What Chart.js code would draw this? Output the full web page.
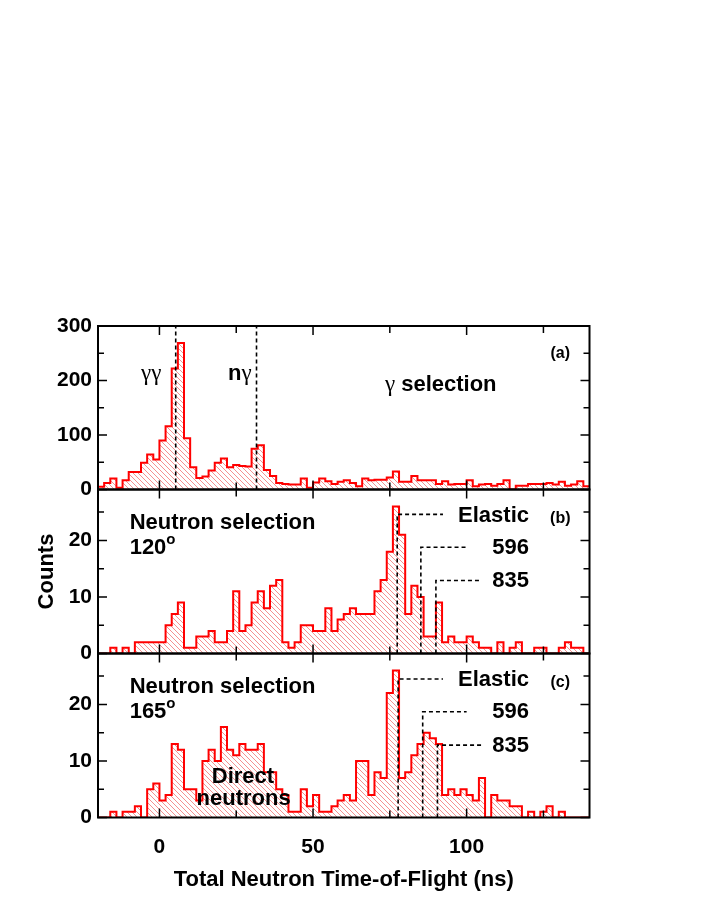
<!DOCTYPE html>
<html>
<head>
<meta charset="utf-8">
<script src="https://cdn.jsdelivr.net/npm/chart.js@4.4.1/dist/chart.umd.min.js"></script>
<style>
  body { margin: 0; background: #fff; width: 708px; height: 917px; position: relative; overflow: hidden; }
  canvas { position: absolute; left: 0; }
</style>
</head>
<body>
<canvas id="panelA" width="708" height="190" style="top:310px"></canvas>
<canvas id="panelB" width="708" height="200" style="top:470px"></canvas>
<canvas id="panelC" width="708" height="277" style="top:640px"></canvas>
<script>
// histogram bins: 2 ns wide, first bin starts at -20 ns
const tofStart = -20;
const tofBinWidth = 2;

// (a) gamma selection
const gammaCounts = [5, 12, 20, 3, 17, 32, 32, 49, 64, 55,
  90, 116, 222, 269, 94, 41, 21, 24, 35, 49,
  57, 41, 45, 43, 42, 75, 81, 36, 25, 12,
  10, 9, 9, 20, 3, 13, 20, 15, 10, 14,
  17, 12, 6, 20, 17, 18, 18, 22, 33, 14,
  14, 25, 17, 17, 17, 10, 15, 9, 10, 10,
  17, 6, 9, 10, 7, 10, 17, 0, 7, 7,
  10, 10, 10, 12, 9, 14, 7, 9, 15, 6];

// (b) neutron selection, 120 deg
const n120Counts = [0, 0, 1, 0, 1, 0, 2, 2, 2, 2,
  2, 5, 7, 9, 1, 1, 3, 3, 4, 2,
  2, 4, 11, 4, 5, 9, 11, 8, 12, 13,
  2, 1, 2, 5, 5, 4, 4, 8, 4, 6,
  7, 8, 7, 7, 7, 11, 13, 18, 26, 21,
  7, 12, 10, 3, 3, 9, 2, 3, 2, 2,
  3, 2, 1, 1, 0, 2, 0, 1, 2, 0,
  0, 1, 1, 0, 0, 1, 2, 1, 1, 0];

// (c) neutron selection, 165 deg
const n165Counts = [0, 0, 1, 0, 1, 1, 2, 0, 5, 6,
  3, 4, 13, 12, 5, 5, 3, 10, 12, 10,
  16, 12, 11, 13, 12, 12, 13, 8, 8, 5,
  4, 1, 1, 5, 2, 4, 1, 1, 2, 3,
  4, 3, 10, 10, 4, 8, 7, 22, 26, 7,
  8, 11, 13, 15, 14, 13, 4, 5, 4, 5,
  4, 3, 7, 0, 4, 3, 3, 2, 2, 0,
  1, 0, 1, 2, 0, 1, 0, 0, 0, 0];

// gamma markers in (a)
const gammaMarkerTof = [5.3, 31.6];

// peak markers in (b) and (c)
const peakNames = ['Elastic', '596', '835'];
const peakTof120 = [77.4, 85.1, 90.0];
const peakLevel120 = [24.6, 18.8, 12.9];
const peakTof165 = [77.7, 85.7, 90.5];
const peakLevel165 = [24.5, 18.7, 12.8];
const peakLineEnd = [92.3, 100.0, 104.9];

const xTickLabels = [0, 50, 100];
const xMinorTicks = [25, 75, 125];
const gammaTickLabels = [0, 100, 200, 300];
const gammaMinorTicks = [50, 150, 250];
const neutronTickLabels = [0, 10, 20];
const neutronMinorTicks = [5, 15, 25];

const SANS = '"Liberation Sans", Arial, Helvetica, sans-serif';
const SERIF = '"Liberation Serif", "DejaVu Serif", serif';
const B22 = 'bold 22px ' + SANS;
const G22 = '23px ' + SERIF;

function histPoints(counts) {
  const pts = counts.map((c, i) => ({ x: tofStart + i * tofBinWidth, y: c }));
  pts.push({ x: tofStart + counts.length * tofBinWidth, y: counts[counts.length - 1] });
  return pts;
}

function hatch(ctx) {
  const s = 5;
  const c = document.createElement('canvas');
  c.width = s; c.height = s;
  const g = c.getContext('2d');
  g.strokeStyle = 'rgba(240, 90, 90, 0.75)';
  g.lineWidth = 0.9;
  g.beginPath();
  g.moveTo(0, 0); g.lineTo(s, s);
  g.moveTo(-1, s - 1); g.lineTo(1, s + 1);
  g.moveTo(s - 1, -1); g.lineTo(s + 1, 1);
  g.stroke();
  return ctx.createPattern(c, 'repeat');
}

function dashed(points) {
  return {
    data: points, borderColor: '#000', borderWidth: 1.6, borderDash: [4, 3],
    pointRadius: 0, fill: false, order: 0
  };
}

function drawRich(ctx, parts, px, py, align) {
  let w = 0;
  parts.forEach(p => { ctx.font = p.font; w += ctx.measureText(p.text).width; });
  let x = align === 'center' ? px - w / 2 : (align === 'right' ? px - w : px);
  ctx.textAlign = 'left';
  ctx.textBaseline = 'middle';
  ctx.fillStyle = '#000';
  parts.forEach(p => {
    ctx.font = p.font;
    ctx.fillText(p.text, x, py + (p.dy || 0));
    x += ctx.measureText(p.text).width;
  });
}

// frame, inward ticks and text labels of one panel
function decor(spec) {
  return {
    id: 'decor',
    afterDatasetsDraw(chart) {
      const { ctx, chartArea: a, scales: { x, y } } = chart;
      ctx.save();
      ctx.strokeStyle = '#000';
      ctx.lineWidth = 1.5;
      ctx.beginPath();
      xTickLabels.concat(xMinorTicks).forEach(v => {
        const len = xTickLabels.includes(v) ? 9 : 7;
        const px = x.getPixelForValue(v);
        ctx.moveTo(px, a.top); ctx.lineTo(px, a.top + len);
        ctx.moveTo(px, a.bottom); ctx.lineTo(px, a.bottom - len);
      });
      spec.yLabels.concat(spec.yMinor).forEach(v => {
        const len = spec.yLabels.includes(v) ? 9 : 6;
        const py = y.getPixelForValue(v);
        ctx.moveTo(a.left, py); ctx.lineTo(a.left + len, py);
        ctx.moveTo(a.right, py); ctx.lineTo(a.right - len, py);
      });
      ctx.stroke();
      ctx.lineWidth = 2;
      ctx.strokeRect(a.left, a.top, a.right - a.left, a.bottom - a.top);
      spec.texts.forEach(t => {
        drawRich(ctx, t.parts, x.getPixelForValue(t.x), y.getPixelForValue(t.y), t.align);
      });
      ctx.restore();
    }
  };
}

function makePanel(id, spec) {
  const canvas = document.getElementById(id);
  const ctx = canvas.getContext('2d');
  const datasets = spec.markers.map(dashed);
  datasets.push({
    data: histPoints(spec.counts),
    stepped: 'before',
    borderColor: '#ff0000',
    borderWidth: 2,
    backgroundColor: hatch(ctx),
    fill: 'origin',
    pointRadius: 0,
    order: 1
  });
  return new Chart(ctx, {
    type: 'line',
    data: { datasets },
    options: {
      responsive: false,
      animation: false,
      events: [],
      layout: { padding: spec.padding },
      plugins: { legend: { display: false }, tooltip: { enabled: false } },
      scales: {
        x: {
          type: 'linear', min: -20, max: 140,
          display: spec.showX,
          grid: { display: false, drawTicks: false },
          border: { display: false },
          afterBuildTicks: s => { s.ticks = xTickLabels.map(v => ({ value: v })); },
          afterFit: s => {
            s.paddingLeft = 0; s.paddingRight = 0;
            if (spec.showX) s.height = 99.5;
          },
          ticks: { color: '#000', padding: 17, font: { family: SANS, size: 21, weight: 'bold' } },
          title: {
            display: true, text: 'Total Neutron Time-of-Flight (ns)', color: '#000',
            font: { family: SANS, size: 22, weight: 'bold' }, padding: { top: 0, bottom: 24 }
          }
        },
        y: {
          type: 'linear', min: 0, max: spec.yMax,
          grid: { display: false, drawTicks: false },
          border: { display: false },
          afterBuildTicks: s => { s.ticks = spec.yLabels.map(v => ({ value: v })); },
          afterFit: s => { s.width = 98; s.paddingTop = 0; s.paddingBottom = 0; },
          ticks: { color: '#000', padding: 6, font: { family: SANS, size: 21, weight: 'bold' } },
          title: {
            display: !!spec.yTitle, text: spec.yTitle || '', color: '#000',
            font: { family: SANS, size: 22, weight: 'bold' }, padding: { top: 34, bottom: 0 }
          }
        }
      }
    },
    plugins: [decor(spec)]
  });
}

function peakMarkers(tofs, levels) {
  return tofs.map((t, i) => [{ x: t, y: 0 }, { x: t, y: levels[i] }, { x: peakLineEnd[i], y: levels[i] }]);
}

function peakTexts(levels) {
  return peakNames.map((n, i) => ({ parts: [{ text: n, font: B22 }], x: 120.3, y: levels[i], align: 'right' }));
}

makePanel('panelA', {
  counts: gammaCounts,
  yMax: 300,
  yLabels: gammaTickLabels,
  yMinor: gammaMinorTicks,
  padding: { top: 16, bottom: 10.5, left: 0, right: 118.5 },
  showX: false,
  markers: gammaMarkerTof.map(t => [{ x: t, y: 0 }, { x: t, y: 300 }]),
  texts: [
    { parts: [{ text: 'γγ', font: G22 }], x: -2.7, y: 212, align: 'center' },
    { parts: [{ text: 'n', font: B22 }, { text: 'γ', font: G22 }], x: 26.2, y: 212, align: 'center' },
    { parts: [{ text: 'γ', font: G22 }, { text: ' selection', font: B22 }], x: 73.4, y: 192, align: 'left' },
    { parts: [{ text: '(a)', font: 'bold 16px ' + SANS }], x: 130.5, y: 250, align: 'center' }
  ]
});

makePanel('panelB', {
  counts: n120Counts,
  yMax: 29,
  yLabels: neutronTickLabels,
  yMinor: neutronMinorTicks,
  yTitle: 'Counts',
  padding: { top: 19.5, bottom: 16.5, left: 0, right: 118.5 },
  showX: false,
  markers: peakMarkers(peakTof120, peakLevel120),
  texts: [
    { parts: [{ text: 'Neutron selection', font: B22 }], x: -9.7, y: 23.1, align: 'left' },
    { parts: [{ text: '120', font: B22 }, { text: 'o', font: 'bold 15px ' + SANS, dy: -8 }], x: -9.7, y: 18.7, align: 'left' },
    { parts: [{ text: '(b)', font: 'bold 16px ' + SANS }], x: 130.5, y: 23.9, align: 'center' }
  ].concat(peakTexts([24.4, 18.7, 12.9]))
});

makePanel('panelC', {
  counts: n165Counts,
  yMax: 29,
  yLabels: neutronTickLabels,
  yMinor: neutronMinorTicks,
  padding: { top: 13.5, bottom: 0, left: 0, right: 118.5 },
  showX: true,
  markers: peakMarkers(peakTof165, peakLevel165),
  texts: [
    { parts: [{ text: 'Neutron selection', font: B22 }], x: -9.7, y: 23.0, align: 'left' },
    { parts: [{ text: '165', font: B22 }, { text: 'o', font: 'bold 15px ' + SANS, dy: -8 }], x: -9.7, y: 18.6, align: 'left' },
    { parts: [{ text: '(c)', font: 'bold 16px ' + SANS }], x: 130.5, y: 23.9, align: 'center' },
    { parts: [{ text: 'Direct', font: B22 }], x: 27.2, y: 7.2, align: 'center' },
    { parts: [{ text: 'neutrons', font: B22 }], x: 27.4, y: 3.3, align: 'center' }
  ].concat(peakTexts([24.3, 18.6, 12.7]))
});
</script>
</body>
</html>
